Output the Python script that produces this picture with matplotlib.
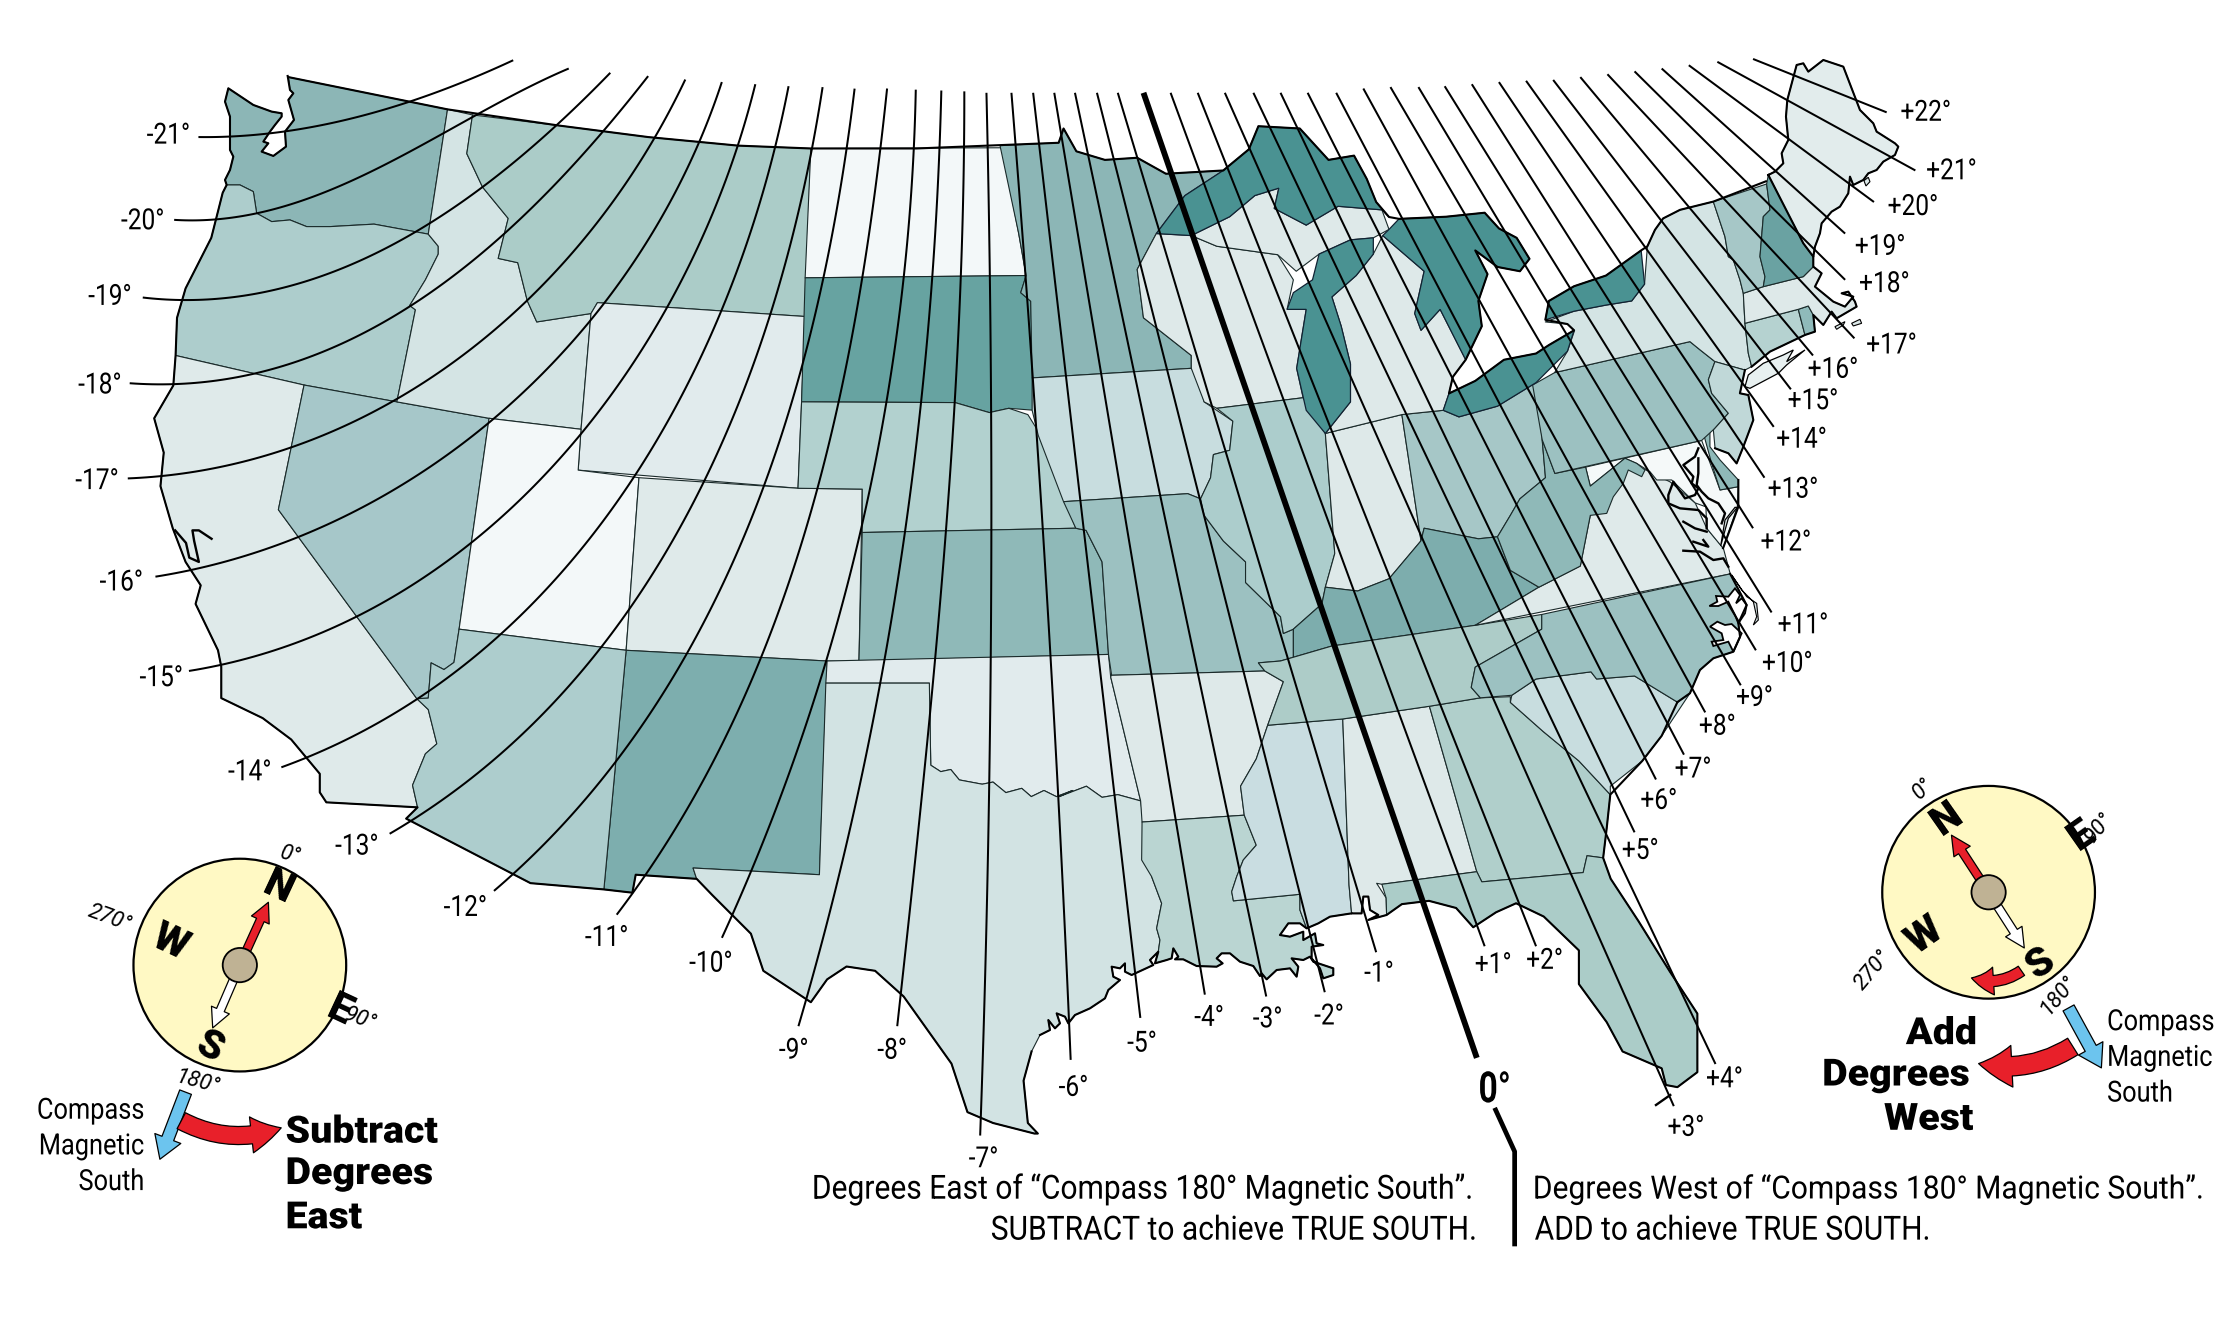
import numpy as np
import matplotlib
matplotlib.use("Agg")
import matplotlib.pyplot as plt
from matplotlib.patches import Polygon, Circle, FancyArrowPatch
from matplotlib.patheffects import AbstractPathEffect
from matplotlib.transforms import Affine2D

def zmap(x0, y0, pts):
    return [(x0 + x/4.283, y0 + y/4.283) for x, y in pts]

# ---- outline pieces that several states share ----
GULF_TX = zmap(728.5,602.4,[(0,525),(30,510),(25,480),(45,505),(60,490),(50,460),(75,470),(85,490),(105,465),(150,445),(195,415),(205,390),(240,360),(220,350),(215,320),(240,325),(255,310),(255,335),(275,345),(340,315),(330,300),(355,275)])
GULF_LA = zmap(728.5,602.4,[(355,275),(345,310),(380,300),(395,295),(400,265),(415,290),(405,298),(430,298),(470,318),(530,320),(548,310),(530,295),(545,280),(570,280),(600,305),(640,318),(660,348),(665,340),(680,358),(710,330),(750,325),(770,350),(775,320),(755,295),(790,300),(810,290),(820,305),(880,325),(880,345),(850,355),(840,325),(815,295),(815,260),(850,255),(830,250),(825,220),(790,240),(790,215),(750,230),(720,225),(745,190),(780,190),(800,205)])
GULF_MS = zmap(728.5,602.4,[(800,205),(835,190),(870,170),(935,160)])
GULF_AL = [(946.8,639.8),(953.8,639.8),(955,628),(958.5,628),(959.7,637.4),(965.5,640.9),(958.5,644.4),(971.3,640.9)]
SABINE = zmap(728.5,602.4,[(305,0),(335,50),(365,130),(350,205),(360,240),(355,275)])
RED_RIVER = [(652,536),(659,540.5),(666,539),(672,546.3),(688,549.3),(695.6,547.8),(704.6,555.2),(715.7,552.2),(722.4,558),(731.3,553.7),(740,558),(751.4,553.7),(770.5,555.2),(700.5+0/1.81,553.7)][:12] + [(742,558),(759,551.5),(761,550.7),(772,558.5),(783,556.6),(799,561)]
WA_COAST = zmap(147.1,49,[(233,18),(240,60),(250,70),(235,90),(252,150),(225,185),(228,230),(190,258),(155,245),(175,220),(160,215),(180,185),(195,165),(215,140),(215,130),(185,125),(130,105),(55,55),(45,95),(60,140),(60,240),(70,260),(60,300),(45,330),(50,345)])
WA_OR_LINE = zmap(147.1,49,[(50,345),(90,345),(130,365),(140,430),(185,455),(240,450),(290,470),(360,470)]) + [(262,157),(300,164)]
NC_COAST = [(1212,402),(1223.5,423.8),(1217.7,436.6),(1218.9,446),(1214.2,456.5),(1200.2,461.1),(1190.8,469.3),(1183.8,485.6),(1175,491.8)]

# ---- state outlines ----
WA = [(202,54),(313.5,76.6),(300,164)] + WA_OR_LINE[::-1] + WA_COAST[::-1][:-1]
OR = WA_OR_LINE + [(307,172.5),(307,178),(298,196),(287,214),(291,217),(278,281.5),(213,269.7),(123,249),(124,222.6),(130,202),(148,166.6),(156,135)]
CA = [(123,249),(213,269.7),(195,357),(292,489.4),(300,497),(306,521),(298,528),(289,550),(292.5,565.5),(228.6,562),(224,555),(224,542),(204,518),(184,503),(155,489),(155,467),(152.7,455.5),(137,423),(140.6,410),(130,393.6),(121,370),(112.4,340.5),(114.7,317),(108,293),(121.4,270)]
NV = [(213,269.7),(278,281.5),(342.6,293),(321.6,440.7),(318,464),(311,469),(302,464.3),(300,489),(292,489.4),(195,357)]
ID = [(313.5,76.6),(331,80.5),(327,107.6),(338,131),(356,153),(349,181),(362.7,184),(369.4,210.8),(376,225.5),(414,219.6),(407,300.7),(342.6,293),(278,281.5),(291,217),(287,214),(298,196),(307,178),(307,172.5),(300,164)]
MT = [(331,80.5),(392,88),(454,96),(517,102),(568,104),(564,221.7),(418.5,212),(414,219.6),(376,225.5),(369.4,210.8),(362.7,184),(349,181),(356,153),(338,131),(327,107.6)]
WY = [(418.5,212),(564,221.7),(559,342),(405,329.3),(407,300.7),(414,219.6)]
UT = [(342.6,293),(407,300.7),(405,329.3),(447.6,334.6),(438.6,455.5),(321.6,440.7)]
CO = [(447.6,334.6),(559,342),(604,342.6),(601.7,463),(579.4,463),(438.6,455.5)]
ND = [(568,104),(702,103.5),(713.6,163.6),(718.8,193),(564,194.6)]
SD = [(564,194.6),(718.8,193),(715,205),(722,211),(724.6,287.4),(706.7,286),(693,289),(669,282),(561.5,281.5)]
NE = [(561.5,281.5),(669,282),(693,289),(706.7,286),(720,290.4),(731,308),(740,334.6),(753.6,370),(604,373),(604,342.6),(559,342)]
KS = [(604,373),(753.6,370),(760.8,371.5),(772,393.6),(776.5,458.4),(601.7,463)]
NM = [(438.6,455.5),(579.4,463),(574,612.7),(485.5,608),(488,615.6),(445.3,612.7),(443,625.3),(423,623)]
AZ = [(321.6,440.7),(438.6,455.5),(423,623),(371.6,618.6),(284.5,573.4),(292.5,565.5),(289,550),(298,528),(306,521),(300,497),(292,489.4),(300,489),(302,464.3),(311,469),(318,464)]
OK_ = [(579.4,463),(776.5,458.4),(778,474)] + RED_RIVER[::-1] + [(651,478.5),(578.5,478.5)]
TX = [(578.5,478.5),(651,478.5)] + RED_RIVER + SABINE[1:] + GULF_TX[::-1] + [(722.6,736.5),(717,757),(720,786.6),(727,794),(724.6,794),(695.6,786.6),(677.7,779),(666.5,745),(633,698),(613,680),(593,677),(579.4,686),(568,702),(534.7,680),(526,654),(499,627),(488,615.6),(485.5,608),(574,612.7)]
MN = [(700.5,102),(741.6,100),(745,90),(754,106),(774,112),(796.6,110.5),(816.7,121.7),(856.9,119.4),(830,137),(810,163.6),(796.6,188.7),(801,222.6),(834.5,249),(834.5,258),(723,264.7),(722,211),(715,205),(718.8,193),(713.6,163.6)]
IA = [(723,264.7),(834.5,258),(839,264),(843.5,281.5),(863.6,295),(861.4,315.4),(850,318.4),(848,334.6),(841,349.4),(832,345.8),(745,351.4),(727.3,305),(723,287.4)]
MO = [(745,351.4),(832,345.8),(841,349.4),(843.5,361),(857,379),(872.5,393.6),(872.5,408),(897,432),(899,443.7),(906,440.7),(906,461.4),(897,463),(881.5,464.3),(886,470),(778.7,473),(776.5,458.4),(772,393.6),(760.8,371.5),(753.6,370)]
AR = [(778.7,473),(886,470),(899,477.5),(888,508),(880,531.6),(869,550.7),(871.6,571),(800,575.8),(799,561),(778,474)]
LA = [(800,575.8),(871.6,571),(880,592),(870.9,602.4),(866.3,614),(862.8,624.6),(864,631),(910.6,626.4),(910.6,637.4),(915.3,650.3)] + GULF_LA[::-1] + SABINE[::-1][1:]
MS = [(888,508),(940.6,503.6),(945,620),(946.8,639.8)] + GULF_MS[::-1] + [(910.6,637.4),(910.6,626.4),(864,631),(862.8,624.6),(866.3,614),(870.9,602.4),(880,592),(871.6,571),(869,550.7),(880,531.6)]
AL = [(940.6,503.6),(1001.3,494.7),(1034.5,610.6),(968,619.4),(964.3,618.7),(971,629)] + GULF_AL[::-1] + [(945,620)]
GA = [(1001.3,494.7),(1037,488.8),(1058,488),(1058,492),(1081,512.4),(1106,533),(1128,556.6),(1125.5,580),(1123,600.9),(1111.7,599.4),(1109,611.2),(1038,617.7),(1034.5,610.6)]
SC = [(1058,492),(1059,487),(1076,475.6),(1114.5,470.6),(1118.4,475.6),(1145,473.5),(1175,491.8),(1183.8,485.6),(1164,515.4),(1150.4,533),(1128,550.7),(1128,556.6),(1106,533),(1081,512.4)]
FL = [(968,619.4),(1034.5,610.6),(1038,617.7),(1109,611.2),(1111.7,599.4),(1123,600.9),(1128.3,615.6),(1147.6,645),(1169.7,680.5),(1189,710),(1189,751),(1175,761.5),(1167,760),(1164,748.3),(1136.6,736.5),(1125.5,716),(1106,689.3),(1106,665.7),(1081.4,642),(1062,632.7),(1048,639),(1032,649.5),(1020,636),(1001,631),(982,633.3),(971.3,640.9),(971,629)]
WI = [(810,163.6),(834.5,165),(852.4,172.5),(895,178.4),(906,196),(901.6,216.7),(915,216.7),(908.3,258),(912.8,278.6),(852.4,286),(843.5,281.5),(834.5,258),(834.5,249),(801,222.6),(796.6,188.7)]
UP = [(834.5,165),(861.4,151.8),(879,137),(895.8,131.8),(892.6,146),(915,157.7),(937.3,144.5),(968,147),(973,160.7),(962,166.6),(946,168),(924,178),(908,190),(895,178.4),(852.4,172.5)]
IL = [(852.4,286),(912.8,278.6),(928.4,303.6),(935,387.7),(928.4,411.3),(926,423),(906,440.7),(899,443.7),(897,432),(872.5,408),(872.5,393.6),(857,379),(843.5,361),(841,349.4),(848,334.6),(850,318.4),(861.4,315.4),(863.6,295)]
IN = [(928.4,303.6),(982,290.4),(995.4,378.8),(973,405.4),(951,414),(928.4,411.3),(935,387.7)]
OH = [(982,290.4),(1011,287.4),(1022,292),(1049,284.5),(1076,268),(1080.3,308),(1082.6,334.6),(1064.7,349.4),(1058,361),(1049,376),(1035.6,377.4),(997.6,370),(995.4,378.8)]
LP = [(968.6,165),(997.6,190),(991,219.6),(995.4,231.4),(1008.8,216.7),(1026.7,252),(1017.7,264),(1015,275.6),(1011,287.4),(982,290.4),(928.4,303.6),(946,281.5),(946,255),(939.5,228.5),(933,208),(950,193),(962,178)]
KY = [(897,463),(906,461.4),(906,440.7),(926,423),(928.4,411.3),(951,414),(973,405.4),(995.4,378.8),(997.6,370),(1035.6,377.4),(1049,376),(1058,399.5),(1078,411.3),(1053.5,426),(1033.4,438),(933,452.5)]
TN = [(897,463),(933,452.5),(1033.4,438),(1080,430.4),(1080,440.7),(1033.4,467.3),(1030.6,481.5),(1037,488.8),(1001.3,494.7),(940.6,503.6),(888,508),(899,477.5),(886,470),(881.5,464.3)]
VA = [(1033.4,438),(1053.5,426),(1078,411.3),(1107,396.5),(1114,361),(1129.5,325.8),(1152,328.7),(1170,337.6),(1187.5,352.3),(1195.5,370),(1207.2,384),(1210.7,397),(1212,402)]
WV = [(1080.3,308),(1089.2,331.6),(1110.7,327.2),(1114,340.5),(1138.3,321),(1146.5,324.6),(1152.3,329.2),(1150,333.9),(1140.6,329.2),(1137.1,338.6),(1130.1,348),(1125.5,359.6),(1114,361),(1107,396.5),(1078,411.3),(1058,399.5),(1049,376),(1058,361),(1064.7,349.4),(1082.6,334.6)]
MD = [(1110.7,327.2),(1192,308.5),(1204.9,343.2),(1217.7,340.9),(1217,355),(1207,384),(1195.5,370),(1195,355),(1187.5,352.3),(1171,336.2),(1160.5,336.2),(1155.8,330.4),(1146.5,324.6),(1138.3,321),(1114,340.5)]
DE = [(1193.2,303.5),(1197.8,302.4),(1197.8,312.9),(1204.9,322.2),(1217.7,336.2),(1217.7,340.9),(1204.9,343.2),(1199,324.6)]
NC = [(1080,430.4),(1212,402)] + NC_COAST[1:] + [(1145,473.5),(1118.4,475.6),(1114.5,470.6),(1076,475.6),(1059,487),(1037,488.8),(1030.6,481.5),(1033.4,467.3),(1080,440.7)]
PA = [(1073.6,269.7),(1089,261),(1183.8,239.3),(1190.8,245),(1201.3,253.3),(1196.7,266),(1199,275.5),(1210.7,289.5),(1201.3,300),(1192,308.5),(1089.2,331.6),(1080.3,308)]
NY = [(1089,261),(1098,246),(1103,231.4),(1098,227),(1082.5,225.5),(1102.6,218),(1125,213.7),(1143,210.8),(1152,199),(1154,172.5),(1159.3,161),(1165,153),(1176.8,147),(1200.2,141.2),(1203.7,151.8),(1208.3,165.8),(1210.7,179.8),(1214.2,182),(1218.8,196),(1221.2,205.4),(1222.3,226.5),(1224.7,247.5),(1227,256.8),(1222.3,259.2),(1201.3,253.3),(1190.8,245),(1183.8,239.3)]
NJ = [(1201.3,253.3),(1222.3,259.2),(1218.8,275.5),(1224.7,276.7),(1228.2,294.2),(1221.2,312.9),(1216.5,324.6),(1210.7,317.5),(1201.4,314),(1200.2,301.2),(1210.7,289.5),(1199,275.5),(1196.7,266)]
Z2 = (1155.8,21)
CT = zmap(*Z2,[(285,880),(445,838),(465,915),(360,965),(305,1010),(295,970)])
RI = zmap(*Z2,[(445,838),(475,828),(490,855),(495,905),(465,915)])
MA = zmap(*Z2,[(280,790),(340,770),(460,740),(490,710),(515,730),(495,770),(550,815),(585,830),(610,800),(575,790),(595,785),(615,815),(620,830),(560,865),(545,845),(520,885),(490,855),(475,828),(445,838),(285,880)])
VT = zmap(*Z2,[(190,515),(350,462),(360,540),(340,560),(330,680),(345,740),(340,770),(280,790),(270,750),(250,690),(235,680),(225,620),(205,560)])
NH = zmap(*Z2,[(355,435),(375,425),(460,640),(490,680),(490,710),(460,740),(340,770),(345,740),(330,680),(340,560),(360,540),(350,462)])
ME = zmap(*Z2,[(355,435),(375,425),(400,400),(395,370),(415,330),(408,260),(412,210),(440,105),(460,100),(475,125),(520,90),(580,110),(630,240),(670,280),(680,305),(735,340),(745,350),(735,375),(700,395),(680,420),(655,430),(640,450),(610,465),(600,440),(595,490),(570,530),(545,545),(515,580),(510,610),(495,650),(490,680),(460,640)])
LI = zmap(*Z2,[(285,1070),(295,1035),(340,1000),(400,975),(430,960),(410,995),(465,960),(410,1005),(385,1030),(300,1075)])
ISLE_1 = zmap(*Z2,[(605,880),(630,868),(635,880),(610,888)])
ISLE_2 = zmap(*Z2,[(555,890),(585,875),(580,885),(560,898)])
ME_ISLE = zmap(*Z2,[(642,452),(655,442),(660,455),(648,468)])

Z1 = (1120.8,294.2)
SOUND_1 = zmap(*Z1,[(328,558),(352,545),(348,528),(385,530),(405,505),(420,525),(408,550),(425,535),(440,555),(435,580),(415,610),(405,585),(385,545),(355,558)])
SOUND_2 = zmap(*Z1,[(330,620),(352,605),(375,615),(395,612),(425,640),(400,695),(385,665),(340,678),(335,665),(370,660),(365,640)])
BANKS = zmap(*Z1,[(395,465),(440,530),(470,550),(475,600),(460,615),(470,590),(460,545),(425,510)])
DELMARVA = zmap(*Z1,[(405,262),(375,300),(362,378),(385,295),(412,262)])

STATE_SHAPES = [WA,OR,CA,NV,ID,MT,WY,UT,CO,ND,SD,NE,KS,NM,AZ,OK_,TX,MN,IA,MO,AR,LA,MS,AL,GA,SC,FL,WI,UP,IL,IN,OH,LP,KY,TN,VA,MD,WV,DE,NC,PA,NY,NJ,CT,RI,MA,VT,NH,ME]
STATE_COLORS = ["#8CB6B6","#ADCDCC","#DFEAEA","#A6C7C9","#D4E4E4","#ABCCC8","#E1EBED","#F3F8F9","#DFEAEA","#F3F8F9","#67A3A1","#B2D1CF","#8FB9B8","#7DAEAE","#ADCDCD","#E1EBED","#D2E3E3","#8CB6B6","#C8DDDF","#9CC1C1","#DEE9E9","#BAD5D2","#C9DDE1","#DEE9E9","#B0CFCB","#C8DDDF","#ABCCC8","#DEE9E9","#DEE9E9","#ACCDCC","#DEE9E9","#A6C7C7","#DEE9E9","#7DADAD","#ADCCC8","#DFEAEA","#F5F9F9","#8FB9B8","#8FB9B8","#9CC1C1","#9CC1C1","#D4E4E4","#C0D8D8","#B5D2D0","#8FBABA","#DEE9E9","#A6C7C7","#6AA2A2","#E2ECEC"]

L_SUPERIOR = [(881.5,88.4),(910.5,90),(930.6,112),(948.5,109),(957.4,125.3),(964,141.5),(973,152),(968,147),(937.3,144.5),(915,157.7),(892.6,146),(895.8,131.8),(879,137),(861.4,151.8),(834.5,165),(810,163.6),(830,137),(856.9,119.4),(874.8,104.6)]
L_MICHIGAN = [(924,178),(946,168),(962,166.6),(962,178),(950,193),(933,208),(939.5,228.5),(946,255),(946,281.5),(928.4,303.6),(915,287.4),(908.3,258),(915,216.7),(901.6,216.7),(906,205),(919.4,196)]
L_HURON = [(980,153.3),(1013,151.8),(1040,149),(1050,160),(1062.4,166.6),(1071.4,181.3),(1064.7,190),(1049,187),(1033.4,175.4),(1042,192),(1035.6,210.8),(1038,228.5),(1026.7,252),(1008.8,216.7),(995.4,231.4),(991,219.6),(997.6,190),(968.6,165),(973,160.7)]
L_ERIE = [(1102.6,231.4),(1098,246),(1076,268),(1049,284.5),(1022,292),(1011,287.4),(1015,275.6),(1033.4,266.8),(1053.5,252),(1076,247.6),(1085,241.7)]
L_ONTARIO = [(1082.5,224),(1085,210.8),(1102.6,200.5),(1125,193),(1149.6,175.4),(1152,199),(1143,210.8),(1125,213.7),(1102.6,218)]
LAKES = [L_SUPERIOR,L_MICHIGAN,L_HURON,L_ERIE,L_ONTARIO]

BORDER_N = [(202,54),(313.5,76.6),(392,88),(454,96),(517,102),(568,104),(642,104),(741.6,100),(745,90),(754,106),(774,112),(796.6,110.5),(816.7,121.7),(856.9,119.4),(874.8,104.6),(881.5,88.4),(910.5,90),(930.6,112),(948.5,109),(957.4,125.3),(964,141.5),(973,152),(980,153.3),(1013,151.8),(1040,149),(1050,160),(1062.4,166.6),(1071.4,181.3),(1064.7,190),(1049,187),(1033.4,175.4),(1042,192),(1035.6,210.8),(1038,228.5),(1026.7,252),(1017.7,264),(1015,275.6),(1033.4,266.8),(1053.5,252),(1076,247.6),(1085,241.7),(1102.6,231.4),(1098,227),(1082.5,224),(1085,210.8),(1102.6,200.5),(1125,193),(1149.6,175.4),(1154,172.5),(1159.3,161),(1165,153),(1176.8,147),(1200.2,141.2),(1237,127)]
BORDER_W = WA_COAST + [(156,135),(148,166.6),(130,202),(124,222.6),(123,249),(121.4,270),(108,293),(114.7,317),(112.4,340.5),(121,370),(130,393.6),(140.6,410),(137,423),(152.7,455.5),(155,467),(155,489),(184,503),(204,518),(224,542),(224,555),(228.6,562),(292.5,565.5),(284.5,573.4),(371.6,618.6),(423,623),(443,625.3),(445.3,612.7),(488,615.6),(499,627),(526,654),(534.7,680),(568,702),(579.4,686),(593,677),(613,680),(633,698),(666.5,745),(677.7,779),(695.6,786.6),(724.6,794),(727,794),(720,786.6),(717,757),(722.6,736.5)]
BORDER_GULF = GULF_TX + GULF_LA + GULF_MS + GULF_AL + [(982,633.3),(1001,631),(1020,636),(1032,649.5),(1048,639),(1062,632.7),(1081.4,642),(1106,665.7),(1106,689.3),(1125.5,716),(1136.6,736.5),(1164,748.3),(1167,760),(1175,761.5),(1189,751),(1189,710),(1169.7,680.5),(1147.6,645),(1128.3,615.6),(1123,600.9),(1125.5,580),(1128,556.6),(1150.4,533),(1164,515.4),(1175,491.8)]
BORDER_NE = ME[1:] + [ME[-1]]
BORDER_NE_2 = zmap(*Z2,[(490,680),(490,710),(515,730),(495,770),(550,815),(585,830),(610,800),(575,790),(595,785),(615,815),(620,830),(560,865),(545,845),(520,885),(490,855),(495,905),(465,915),(360,965),(305,1010)])
BORDER_NJ = [(1222.3,259.2),(1218.8,275.5),(1224.7,276.7),(1228.2,294.2),(1221.2,312.9),(1216.5,324.6),(1210.7,317.5),(1201.4,314)]
BORDER_DE = [(1217.7,336.2),(1217.7,355),(1207,384)]
COAST_LINES = [BORDER_N,BORDER_W,BORDER_GULF,BORDER_NE_2,BORDER_NJ,BORDER_DE,NC_COAST]

BAY_A = zmap(*Z1,[(295,85),(285,110),(250,135),(280,170),(275,190),(295,205),(285,225),(255,235),(220,185),(205,225),(205,250),(240,265),(295,270),(320,295),(320,325)])
BAY_B = zmap(*Z1,[(295,115),(295,160),(290,195),(305,215),(325,235),(355,250),(375,280),(365,310)])
BAY_C = zmap(*Z1,[(250,305),(285,325),(320,335)])
BAY_D = zmap(*Z1,[(280,365),(325,380),(310,360)])
BAY_E = zmap(*Z1,[(250,392),(300,395),(340,420),(370,415),(385,440)])
SF_BAY = [(122.7,371.5),(130.3,380.3),(132.6,390.6),(139.3,393.6),(136,378.9),(134.8,371.5),(139.3,371.5),(148.2,377.4)]
KEYS = [(1160,774),(1170,767)]
DETAILS = [BAY_A,BAY_B,BAY_C,BAY_D,BAY_E,SF_BAY,KEYS]

# ---- compass-variation lines ----
VAR_NAMES = ["-21°","-20°","-19°","-18°","-17°","-16°","-15°","-14°","-13°","-12°","-11°","-10°","-9°","-8°","-7°","-6°","-5°","-4°","-3°","-2°","-1°",
             "+1°","+2°","+3°","+4°","+5°","+6°","+7°","+8°","+9°","+10°","+11°","+12°","+13°","+14°","+15°","+16°","+17°","+18°","+19°","+20°","+21°","+22°"]
VAR_LINES = [
 [(359.5,42.2),(284.5,72),(204,91.4),(139,96)],
 [(398.4,48),(284.5,107.6),(181.7,149),(122,154)],
 [(427.5,51),(338,131),(226.4,193),(100,208.4)],
 [(454.3,53.6),(369.4,146),(289,216.7),(172.8,261),(91.4,269)],
 [(480.2,56),(400.7,175.4),(280,281.5),(172.8,320),(90,336)],
 [(505.7,57.5),(423,212),(347,293),(208.5,376),(109,404)],
 [(529.3,59),(465.4,216.7),(405,308),(248.7,432),(132.6,470)],
 [(552.6,60.4),(503.4,219.6),(445.3,334.6),(329,462),(197.3,537.5)],
 [(576.3,61),(539,221),(492,340.5),(414,462),(273,584)],
 [(598.6,62),(577,194.6),(534.7,340.5),(479,462),(346,624)],
 [(621.4,62),(604,194.6),(532.5,462),(432,640.7)],
 [(641.5,62.8),(633,194.6),(579,462),(505.7,656.9)],
 [(659.4,63.4),(653,194.6),(619.6,462),(559.3,718.8)],
 [(675.5,64),(673,194.6),(655,462),(628.5,718.8)],
 [(691,65),(694,462),(686.6,795.4)],
 [(708.5,65),(736,462),(750,742.4)],
 [(723.7,65),(798.8,713)],
 [(738.5,65),(844,696.7)],
 [(753,65),(887,698)],
 [(768.4,65),(928,695)],
 [(783,65),(964,667)],
 [(820,65),(1040,662.8)],
 [(839,65),(1076,662.8)],
 [(858,65),(1172.5,774.8)],
 [(878,65),(1201.7,745.3)],
 [(897,65),(1145,583)],
 [(916,65),(1160,546)],
 [(936,65),(1179.6,528.6)],
 [(955,62),(1194.5,499)],
 [(974,61),(1219.4,480)],
 [(993.6,61),(1230,455.5)],
 [(1012,60.4),(1241,429)],
 [(1031,59),(1228,370)],
 [(1050,57.5),(1236,334.6)],
 [(1069,56.6),(1242.5,299)],
 [(1088,56),(1254.5,272.7)],
 [(1107,54),(1270,249)],
 [(1126,52),(1299,237)],
 [(1145,50),(1292.5,196)],
 [(1164,48),(1292.5,163.6)],
 [(1183,45.7),(1312.7,141.5)],
 [(1203,43.3),(1341.7,119.4)],
 [(1228,41.3),(1321.6,78.7)],
]
VAR_LABEL_XY = [(118,95),(100,155),(77,208),(70,270),(68,337),(85,408),(113,475),(175,541),(250,593),(326,636),(425,657),(498,675),(556,736),(625,736),(689,812),(752,762),(800,731),(847,713),(888,714),(931,712),(966,682),
                (1046,676),(1082,673),(1181,790),(1208,756),(1149,596),(1162,561),(1186,539),(1203,509),(1229,489),(1252,465),(1263,438),(1251,380),(1256,343),(1262,308),(1270,281),(1284,259),(1325,242),(1320,199),(1317,173),(1340,145),(1367,120),(1349,79)]
ZERO_LINE = [(801,65),(1034.5,741)]
ZERO_LINE_LOWER = [(1047,776),(1061,806.6),(1061,873)]

PLAIN = ['Roboto','DejaVu Sans']
W, H = 1560, 927.4
PX = 2227/W

class Squeeze(AbstractPathEffect):
    """Draw a text narrower about its anchor, as the condensed face of the original."""
    def __init__(self, sx, x0):
        super().__init__()
        self.sx, self.x0 = sx, x0
    def draw_path(self, renderer, gc, tpath, affine, rgbFace=None):
        a = affine + Affine2D().translate(-self.x0, 0).scale(self.sx, 1).translate(self.x0, 0)
        renderer.draw_path(gc, tpath, a, rgbFace)

fig = plt.figure(figsize=(22.27,13.24), dpi=100, facecolor='white')
ax = fig.add_axes([0,0,1,1])
ax.set_xlim(0,W); ax.set_ylim(H,0); ax.axis('off')

def label(x, y, s, size, sx=0.9, ha='center', weight='normal', z=7):
    t = ax.text(x, y, s, family=PLAIN, fontsize=size, ha=ha, va='center', fontweight=weight, color='black', zorder=z)
    t.set_path_effects([Squeeze(sx, x*PX)])
    return t

for shape, c in zip(STATE_SHAPES, STATE_COLORS):
    ax.add_patch(Polygon(shape, closed=True, fc=c, ec='#1a2a2a', lw=0.8, joinstyle='round', zorder=2))
for lake in LAKES:
    ax.add_patch(Polygon(lake, closed=True, fc='#4A9292', ec='#123', lw=0.9, zorder=3))
ax.add_patch(Polygon(LI, closed=True, fc='#E8F0F0', ec='black', lw=0.9, zorder=3))
ax.add_patch(Polygon(DELMARVA, closed=True, fc='#DCE8E8', ec='black', lw=0.9, zorder=3))
for s_ in (SOUND_1, SOUND_2):
    ax.add_patch(Polygon(s_, closed=True, fc='white', ec='black', lw=1.3, zorder=3))
for s_ in (ISLE_1, ISLE_2, ME_ISLE, BANKS):
    ax.add_patch(Polygon(s_, closed=True, fc='#DCE8E8', ec='black', lw=0.8, zorder=3))
for c_line in COAST_LINES + [ME + [ME[0]]]:
    p = np.array(c_line)
    ax.plot(p[:,0], p[:,1], color='black', lw=1.5, zorder=4, solid_joinstyle='round')
for d in DETAILS:
    p = np.array(d)
    ax.plot(p[:,0], p[:,1], color='black', lw=1.7, zorder=4, solid_joinstyle='round')

def smooth(points):
    p = np.array(points, float)
    if len(p) == 2:
        return p
    t = np.r_[0, np.cumsum(np.hypot(*np.diff(p, axis=0).T))]
    t /= t[-1]
    deg = min(3, len(p)-1)
    tt = np.linspace(0, 1, 120)
    return np.c_[np.polyval(np.polyfit(t, p[:,0], deg), tt), np.polyval(np.polyfit(t, p[:,1], deg), tt)]

for pts in VAR_LINES:
    s = smooth(pts)
    ax.plot(s[:,0], s[:,1], color='black', lw=1.45, zorder=5, solid_capstyle='butt')
p = np.array(ZERO_LINE); ax.plot(p[:,0], p[:,1], color='black', lw=4.2, zorder=6, solid_capstyle='butt')
p = np.array(ZERO_LINE_LOWER); ax.plot(p[:,0], p[:,1], color='black', lw=3.4, zorder=6, solid_capstyle='butt')

for name, (x,y) in zip(VAR_NAMES, VAR_LABEL_XY):
    label(x, y, name, 21, sx=0.84)
label(1047, 764, "0°", 31, sx=0.78, weight='bold')

def compass(cx, cy, n_xy, s_xy, letters, degs):
    ax.add_patch(Circle((cx,cy), 74.5, fc='#FFF9C4', ec='black', lw=1.6, zorder=8))
    for tip, col in ((n_xy,'#E8202A'),(s_xy,'white')):
        ax.add_patch(FancyArrowPatch((cx,cy), tip, arrowstyle='simple,head_width=14,head_length=14,tail_width=6', fc=col, ec='black', lw=0.9, zorder=9, mutation_scale=1, shrinkA=0, shrinkB=0))
    ax.add_patch(Circle((cx,cy), 12, fc='#BFB294', ec='black', lw=1.3, zorder=10))
    for t,x,y,r in letters:
        ax.text(x, y, t, family=PLAIN, fontsize=29, fontweight='black', ha='center', va='center', rotation=r, zorder=11)
    for t,x,y,r in degs:
        ax.text(x, y, t, family=PLAIN, fontsize=16, style='italic', ha='center', va='center', rotation=r, zorder=11)

compass(168,676,(188,632),(149,720),
        [("N",195,622,-25),("S",147,733,-25),("W",119,660,-25),("E",238,708,-25)],
        [("0°",203,599,-15),("270°",77,643,-20),("90°",252,714,-20),("180°",138,758,-15)])
compass(1393,625,(1367,585),(1418,664),
        [("N",1364,573,35),("S",1429,675,35),("W",1348,655,35),("E",1458,585,35)],
        [("0°",1347,553,45),("90°",1470,580,50),("270°",1312,680,50),("180°",1442,697,50)])

def arrow(a, b, color, rad=0.0, hw=20, hl=14, tw=9, z=12):
    ax.add_patch(FancyArrowPatch(a, b, connectionstyle=f'arc3,rad={rad}',
                 arrowstyle=f'simple,head_width={hw},head_length={hl},tail_width={tw}', fc=color, ec='black', lw=0.9,
                 mutation_scale=1, shrinkA=0, shrinkB=0, zorder=z))

arrow((130,765),(112,812),'#6CC4EE',hw=20,hl=16,tw=9)
arrow((1449,706),(1472,748),'#6CC4EE',hw=20,hl=16,tw=9)
arrow((127,785),(197,790),'#E8202A',rad=0.22,hw=26,hl=22,tw=13)
arrow((1452,733),(1386,745),'#E8202A',rad=-0.2,hw=30,hl=24,tw=14)
arrow((1416,680),(1381,685),'#E8202A',rad=-0.25,hw=20,hl=16,tw=8)

for t,y in zip(["Compass","Magnetic","South"],[778,803,828]):
    label(101,y,t,21,sx=0.87,ha='right')
for t,y in zip(["Compass","Magnetic","South"],[716,741,766]):
    label(1476,y,t,21,sx=0.87,ha='left')
for t,y in zip(["Subtract","Degrees","East"],[793,822,853]):
    label(200,y,t,27,sx=1.05,ha='left',weight='black')
for t,x,y in zip(["Add","Degrees","West"],[1360,1328,1351],[724,753,784]):
    label(x,y,t,27,sx=1.05,weight='black')

label(1032,833,"Degrees East of “Compass 180° Magnetic South”.",24,sx=0.9,ha='right')
label(1035,862,"SUBTRACT to achieve TRUE SOUTH.",24,sx=0.9,ha='right')
label(1309.5,833,"Degrees West of “Compass 180° Magnetic South”.",23,sx=0.94)
label(1075,862,"ADD to achieve TRUE SOUTH.",24,sx=0.9,ha='left')

fig.savefig('out.png', dpi=100)
